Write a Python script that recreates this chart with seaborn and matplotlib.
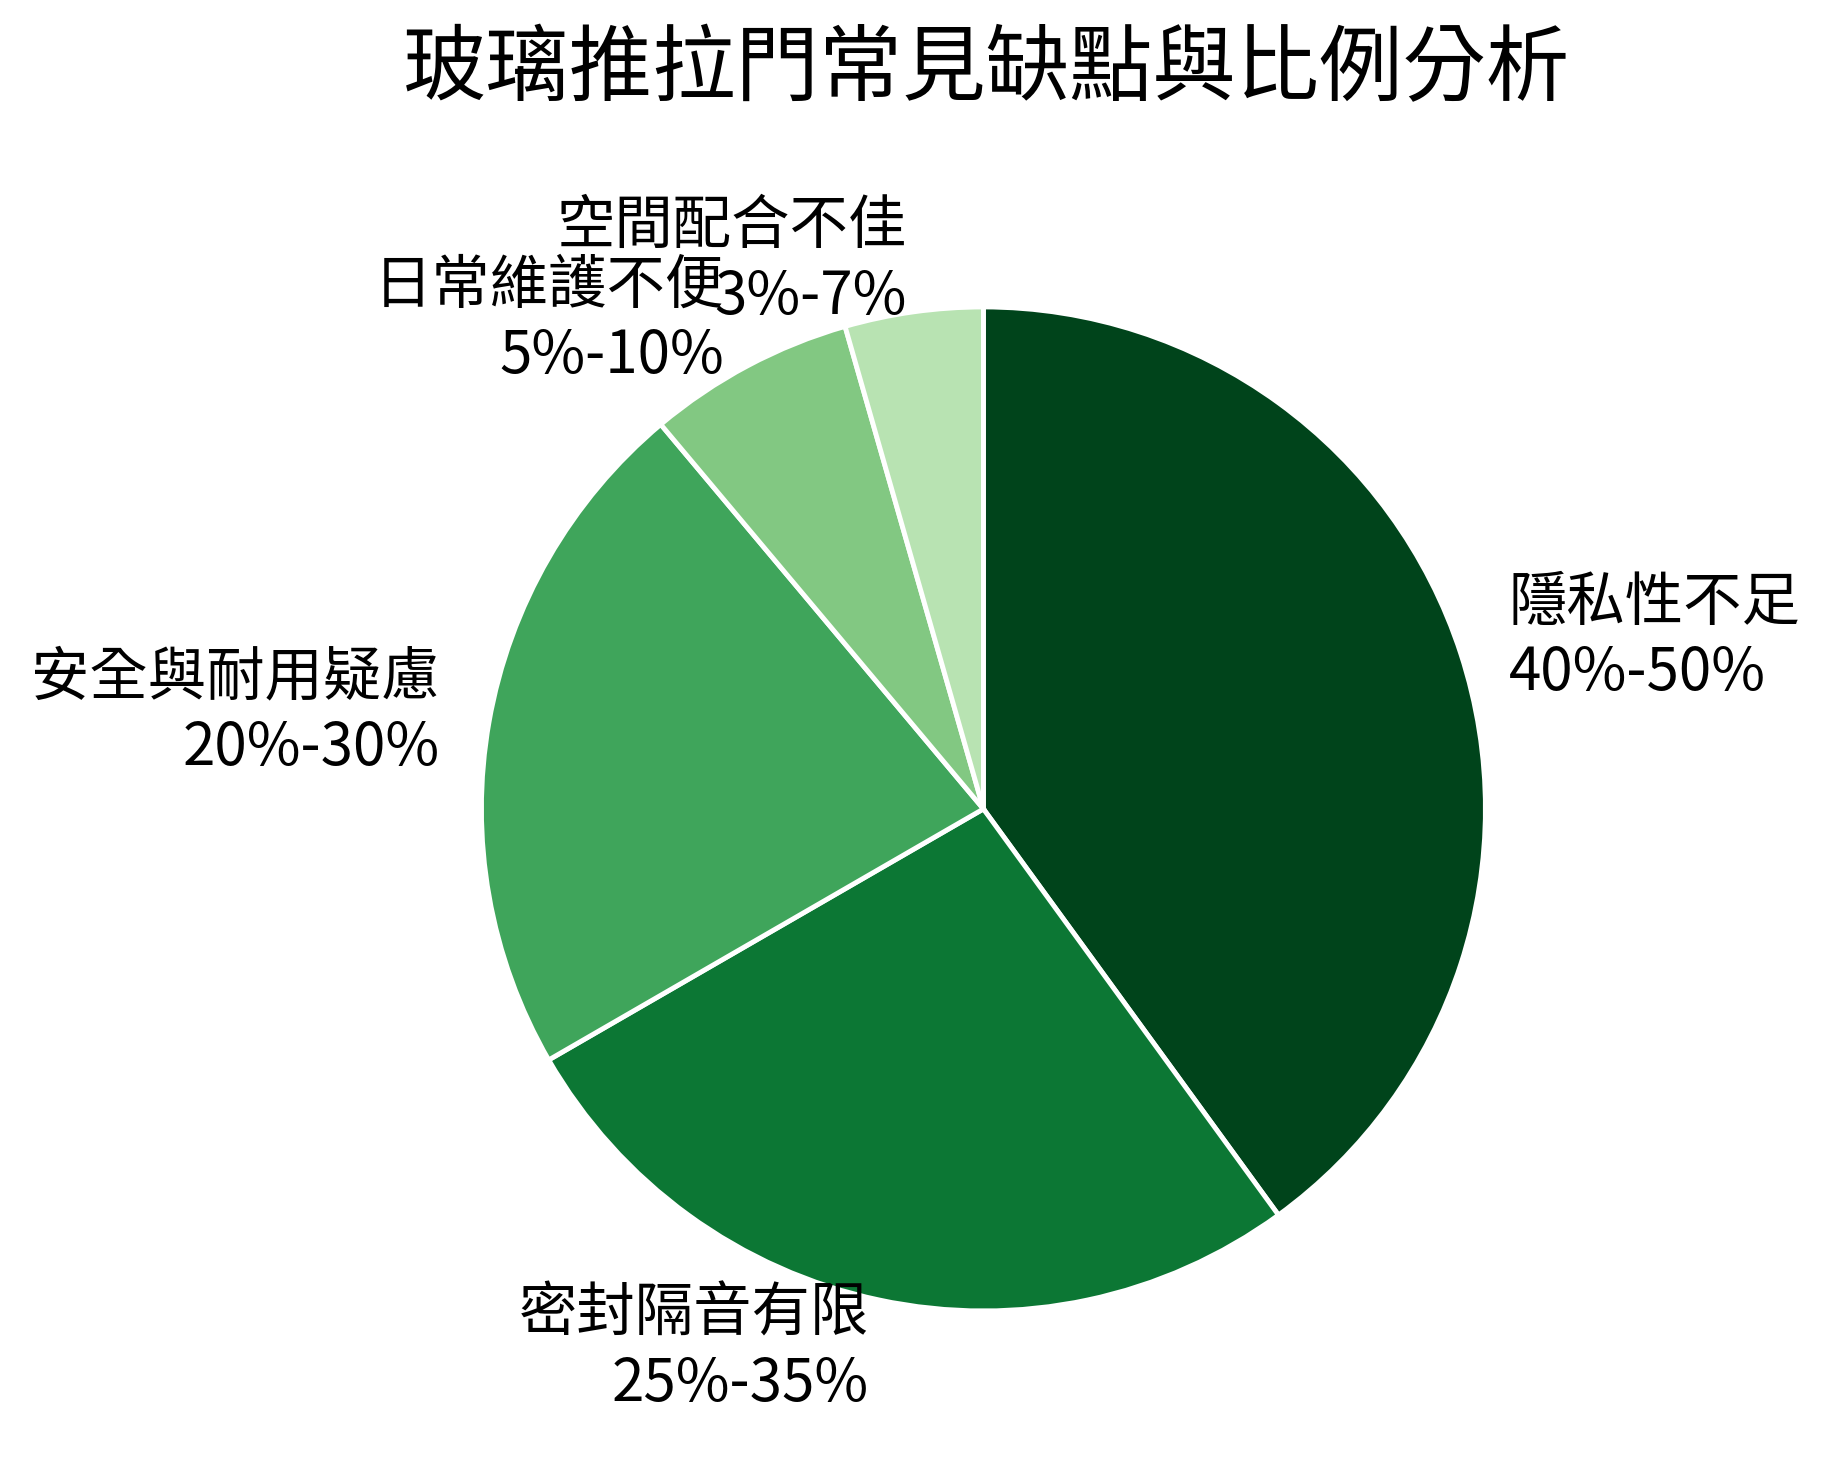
import matplotlib.pyplot as plt
import seaborn as sns

# data
categories = ["隱私性不足", "密封隔音有限", "安全與耐用疑慮", "日常維護不便", "空間配合不佳"]
range_labels = ["40%-50%", "25%-35%", "20%-30%", "5%-10%", "3%-7%"]
shares = [45, 30, 25, 7.5, 5]

colors = ["#00441b", "#0c7734", "#3fa55b", "#82c882", "#b8e3b2"]

sns.set_theme(style="white")
plt.rcParams['font.family'] = ['Noto Sans CJK TC', 'DejaVu Sans']

fig = plt.figure(figsize=(18.31, 14.68), dpi=100)
ax = fig.add_axes([0.1944, 0.0215, 0.6854, 0.8549])

labels = [f"{c}\n{r}" for c, r in zip(categories, range_labels)]
wedges, texts = ax.pie(
    shares,
    labels=labels,
    colors=colors,
    startangle=90,
    counterclock=False,
    labeldistance=1.1,
    wedgeprops=dict(edgecolor="white", linewidth=3.5),
    textprops=dict(fontsize=42, color="black"),
)

fig.text(986 / 1831, 1 - 70 / 1468, "玻璃推拉門常見缺點與比例分析",
         ha="center", va="center", fontsize=60, color="black")

fig.savefig("out.png", dpi=100)
